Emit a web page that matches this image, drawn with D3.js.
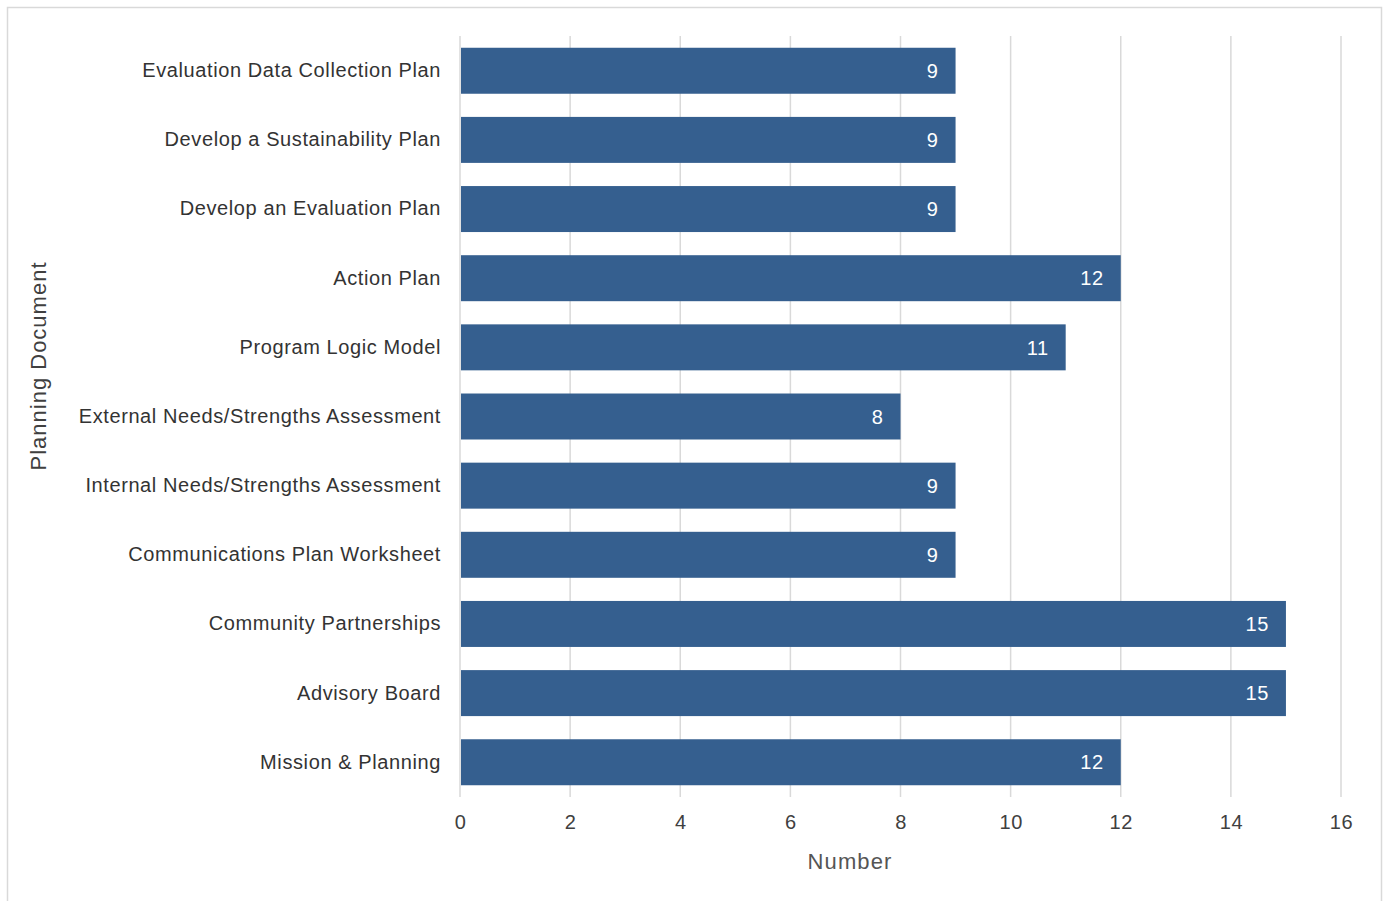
<!DOCTYPE html>
<html>
<head>
<meta charset="utf-8">
<script src="https://cdn.jsdelivr.net/npm/d3@7"></script>
<style>
  body { margin: 0; background: #fff; }
  text { font-family: "Liberation Sans", Arial, sans-serif; }
</style>
</head>
<body>
<div id="chart"></div>
<script>
const categories = [
  "Evaluation Data Collection Plan",
  "Develop a Sustainability Plan",
  "Develop an Evaluation Plan",
  "Action Plan",
  "Program Logic Model",
  "External Needs/Strengths Assessment",
  "Internal Needs/Strengths Assessment",
  "Communications Plan Worksheet",
  "Community Partnerships",
  "Advisory Board",
  "Mission & Planning"
]
const values = [9, 9, 9, 12, 11, 8, 9, 9, 15, 15, 12]
const xTicks = [0, 2, 4, 6, 8, 10, 12, 14, 16]

const width = 1384
const height = 901
const margin = { top: 36, bottom: 104, left: 460, right: 43 }

const svg = d3.select("#chart")
  .append("svg")
  .attr("width", width)
  .attr("height", height)

// marco exterior
svg.append("rect")
  .attr("x", 7.5).attr("y", 7.5)
  .attr("width", 1374).attr("height", 900)
  .attr("fill", "#fff")
  .attr("stroke", "#d9d9d9")
  .attr("stroke-width", 1.5)

const innerW = width - margin.left - margin.right
const innerH = height - margin.top - margin.bottom

const x = d3.scaleLinear().domain([0, 16]).range([0, innerW])
const y = d3.scaleBand().domain(categories).range([0, innerH]).paddingInner(0.335).paddingOuter(0.17)

const g = svg.append("g").attr("transform", `translate(${margin.left}, ${margin.top})`)

// rejilla
g.append("g")
  .selectAll("line")
  .data(xTicks)
  .join("line")
  .attr("x1", d => x(d)).attr("x2", d => x(d))
  .attr("y1", 0).attr("y2", innerH)
  .attr("stroke", "#d9d9d9")
  .attr("stroke-width", 1.5)

// barras
g.append("g")
  .selectAll("rect")
  .data(values)
  .join("rect")
  .attr("x", x(0) + 1)
  .attr("y", (d, i) => y(categories[i]))
  .attr("height", y.bandwidth())
  .attr("width", d => x(d) - 1)
  .attr("fill", "#355f8f")

// etiquetas de valor
g.append("g")
  .selectAll("text")
  .data(values)
  .join("text")
  .attr("x", d => x(d) - 17)
  .attr("y", (d, i) => y(categories[i]) + y.bandwidth() / 2)
  .attr("dy", "0.36em")
  .attr("text-anchor", "end")
  .attr("fill", "#fff")
  .attr("font-size", 20)
  .attr("letter-spacing", 0.6)
  .text(d => d)

// eje x
const xAxis = d3.axisBottom(x).tickValues(xTicks).tickSize(0).tickPadding(18)
const xg = g.append("g").attr("transform", `translate(0, ${innerH})`).call(xAxis)
xg.select(".domain").remove()
xg.selectAll("text")
  .attr("font-size", 20)
  .attr("letter-spacing", 0.6)
  .attr("fill", "#404040")
  .attr("font-family", "Liberation Sans, Arial, sans-serif")

// eje y
const yAxis = d3.axisLeft(y).tickSize(0).tickPadding(19)
const yg = g.append("g").call(yAxis)
yg.select(".domain").remove()
yg.selectAll("text")
  .attr("font-size", 20)
  .attr("letter-spacing", 0.6)
  .attr("fill", "#333")
  .attr("font-family", "Liberation Sans, Arial, sans-serif")

// títulos
svg.append("text")
  .attr("x", 850)
  .attr("y", 869)
  .attr("text-anchor", "middle")
  .attr("font-size", 22)
  .attr("letter-spacing", 1.1)
  .attr("fill", "#555")
  .text("Number")

svg.append("text")
  .attr("transform", `translate(46, 366) rotate(-90)`)
  .attr("text-anchor", "middle")
  .attr("font-size", 22)
  .attr("letter-spacing", 1)
  .attr("fill", "#404040")
  .text("Planning Document")
</script>
</body>
</html>
